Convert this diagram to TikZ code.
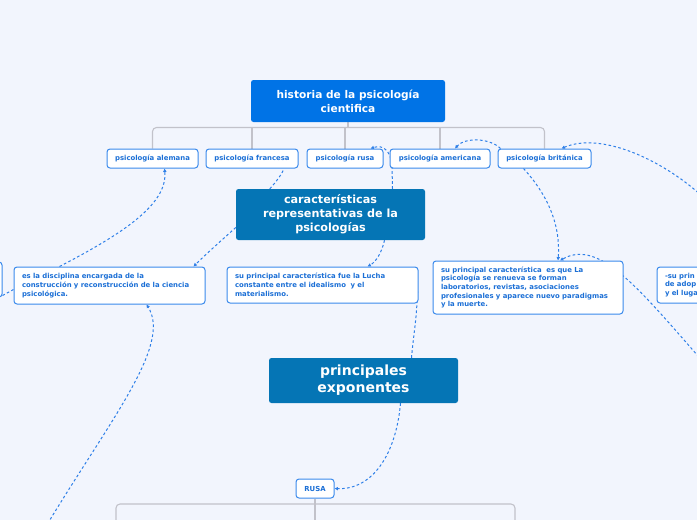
\documentclass[tikz,border=0pt]{standalone}
\usepackage{fontspec}
\setmainfont{DejaVu Sans}
\usetikzlibrary{arrows.meta,calc,backgrounds}
\definecolor{bg}{HTML}{F2F5FD}
\definecolor{titleblue}{HTML}{0073E6}
\definecolor{darkblue}{HTML}{0575B5}
\definecolor{nodeblue}{HTML}{3A8AEC}
\definecolor{textblue}{HTML}{1B6FD6}
\definecolor{linkblue}{HTML}{2E7FE8}
\definecolor{treegray}{HTML}{C2C2CA}
\tikzset{
  topic/.style={rectangle, rounded corners=2.5pt, fill=#1, text=white, inner sep=0pt, align=center},
  sub/.style={rectangle, rounded corners=3pt, draw=nodeblue, line width=1pt, fill=white, text=textblue,
    font=\bfseries\fontsize{6.9}{8.8}\selectfont, inner sep=0pt, minimum height=19pt},
  para/.style={sub, align=left, inner xsep=8pt},
  link/.style={draw=linkblue, line width=1pt, dash pattern=on 2.6pt off 2.4pt},
  linkto/.style={link, -{Latex[length=3.4pt,width=3.8pt]}},
  tree/.style={draw=treegray, line width=1.1pt, rounded corners=4pt},
}
\begin{document}
\begin{tikzpicture}[x=1pt,y=-1pt]
\useasboundingbox (0,0) rectangle (697,520);
\clip (0,0) rectangle (697,520);

% nodes
\node[topic=titleblue, minimum width=194pt, minimum height=42pt, font=\bfseries\fontsize{10.6}{14}\selectfont]
  (title) at (348,101) {historia de la psicología\\cientifica};
\node[sub, minimum width=91pt] (alemana) at (152.5,158.5) {psicología alemana};
\node[sub, minimum width=92pt] (francesa) at (252,158.5) {psicología francesa};
\node[sub, minimum width=76pt] (rusa) at (345,158.5) {psicología rusa};
\node[sub, minimum width=100pt] (americana) at (440,158.5) {psicología americana};
\node[sub, minimum width=93pt] (britanica) at (544.5,158.5) {psicología británica};

\node[topic=darkblue, minimum width=189pt, minimum height=51pt, font=\bfseries\fontsize{11.2}{14}\selectfont]
  (caract) at (330.5,214.5) {características\\representativas de la\\psicologías};

\node[para, minimum width=191pt, minimum height=37pt, text width=175pt] (disc) at (109.5,285.5)
  {es la disciplina encargada de la\\construcción y reconstrucción de la ciencia\\psicológica.};
\node[para, minimum width=191pt, minimum height=36pt, text width=175pt] (lucha) at (322.5,285)
  {su principal característica fue la Lucha\\constante entre el idealismo\ \ y el\\materialismo.};
\node[para, minimum width=190pt, minimum height=53pt, text width=174pt,
  font=\bfseries\fontsize{6.9}{8.6}\selectfont] (renueva) at (528,287.5)
  {su principal característica\ \ es que La\\psicología se renueva se forman\\laboratorios, revistas, asociaciones\\profesionales y aparece nuevo paradigmas\\y la muerte.};
\node[para, minimum width=102pt, minimum height=36pt, text width=86pt] (rightpart) at (708,285)
  {-su prin\\de adop\\y el luga};
\node[sub, minimum width=62pt, minimum height=35pt] (leftpart) at (-29,279.5) {};

\node[topic=darkblue, minimum width=189pt, minimum height=45pt, font=\bfseries\fontsize{14}{17}\selectfont]
  (principales) at (363.5,380.5) {principales\\exponentes};
\node[sub, minimum width=38pt] (rusa2) at (315,488.5) {RUSA};

\begin{scope}[on background layer]
\fill[bg] (0,0) rectangle (697,520);
% tree lines
\draw[tree] (alemana.north) -- ++(0,-21) -| (britanica.north);
\draw[tree] (francesa.north) -- ++(0,-21);
\draw[tree] (rusa.north) -- ++(0,-21);
\draw[tree] (americana.north) -- ++(0,-21);
\draw[tree] (title.south) -- ++(0,6);
\draw[tree] (116,530) -- (116,504) -- (515,504) -- (515,530);
\draw[tree, rounded corners=0pt] (rusa2.south) -- (315,530);

% dashed connectors
\draw[linkto] ($(disc.north west)+(46,0)$) .. controls (120,235) and (168,205) .. ($(alemana.south)+(12,0)$);
\draw[linkto] ($(caract.west)+(0,13)$) .. controls (215,246) and (202,258) .. ($(disc.north east)+(-12,0)$);
\draw[link] ($(caract.north west)+(34,0)$) .. controls (276,182) and (282,174) .. ($(francesa.south)+(32,0)$);
\draw[linkto] ($(caract.south)+(54,0)$) .. controls (382,252) and (376,262) .. ($(lucha.north)+(45,0)$);
\draw[linkto] ($(caract.north)+(62,0)$) -- (392,166) .. controls (391,152) and (384,144) .. ($(rusa.north east)+(-13,0)$);
\draw[linkto] ($(principales.north)+(48,0)$) .. controls (414,330) and (418,310) .. ($(lucha.east)+(-2,4)$);
\draw[linkto] ($(principales.south)+(37,0)$) .. controls (396,455) and (372,490) .. (rusa2.east);
\draw[linkto] (45,528) .. controls (110,420) and (172,345) .. ($(disc.south)+(37,0)$);
\draw[link] ($(leftpart.east)+(0,16)$) -- ($(disc.west)+(0,4)$);
\draw[linkto] ($(britanica.south)+(-21,0)$) .. controls (545,192) and (561,222) .. ($(renueva.north)+(30,0)$);
\draw[linkto] (712,372) .. controls (640,290) and (600,238) .. ($(renueva.north)+(32,0)$);
\draw[linkto] ($(britanica.north west)+(3,0)$) .. controls (490,138) and (465,137) .. ($(americana.north)+(15,0)$);
\draw[linkto] (702,196) .. controls (660,158) and (600,132) .. ($(britanica.north)+(17,0)$);
\end{scope}
\end{tikzpicture}
\end{document}
